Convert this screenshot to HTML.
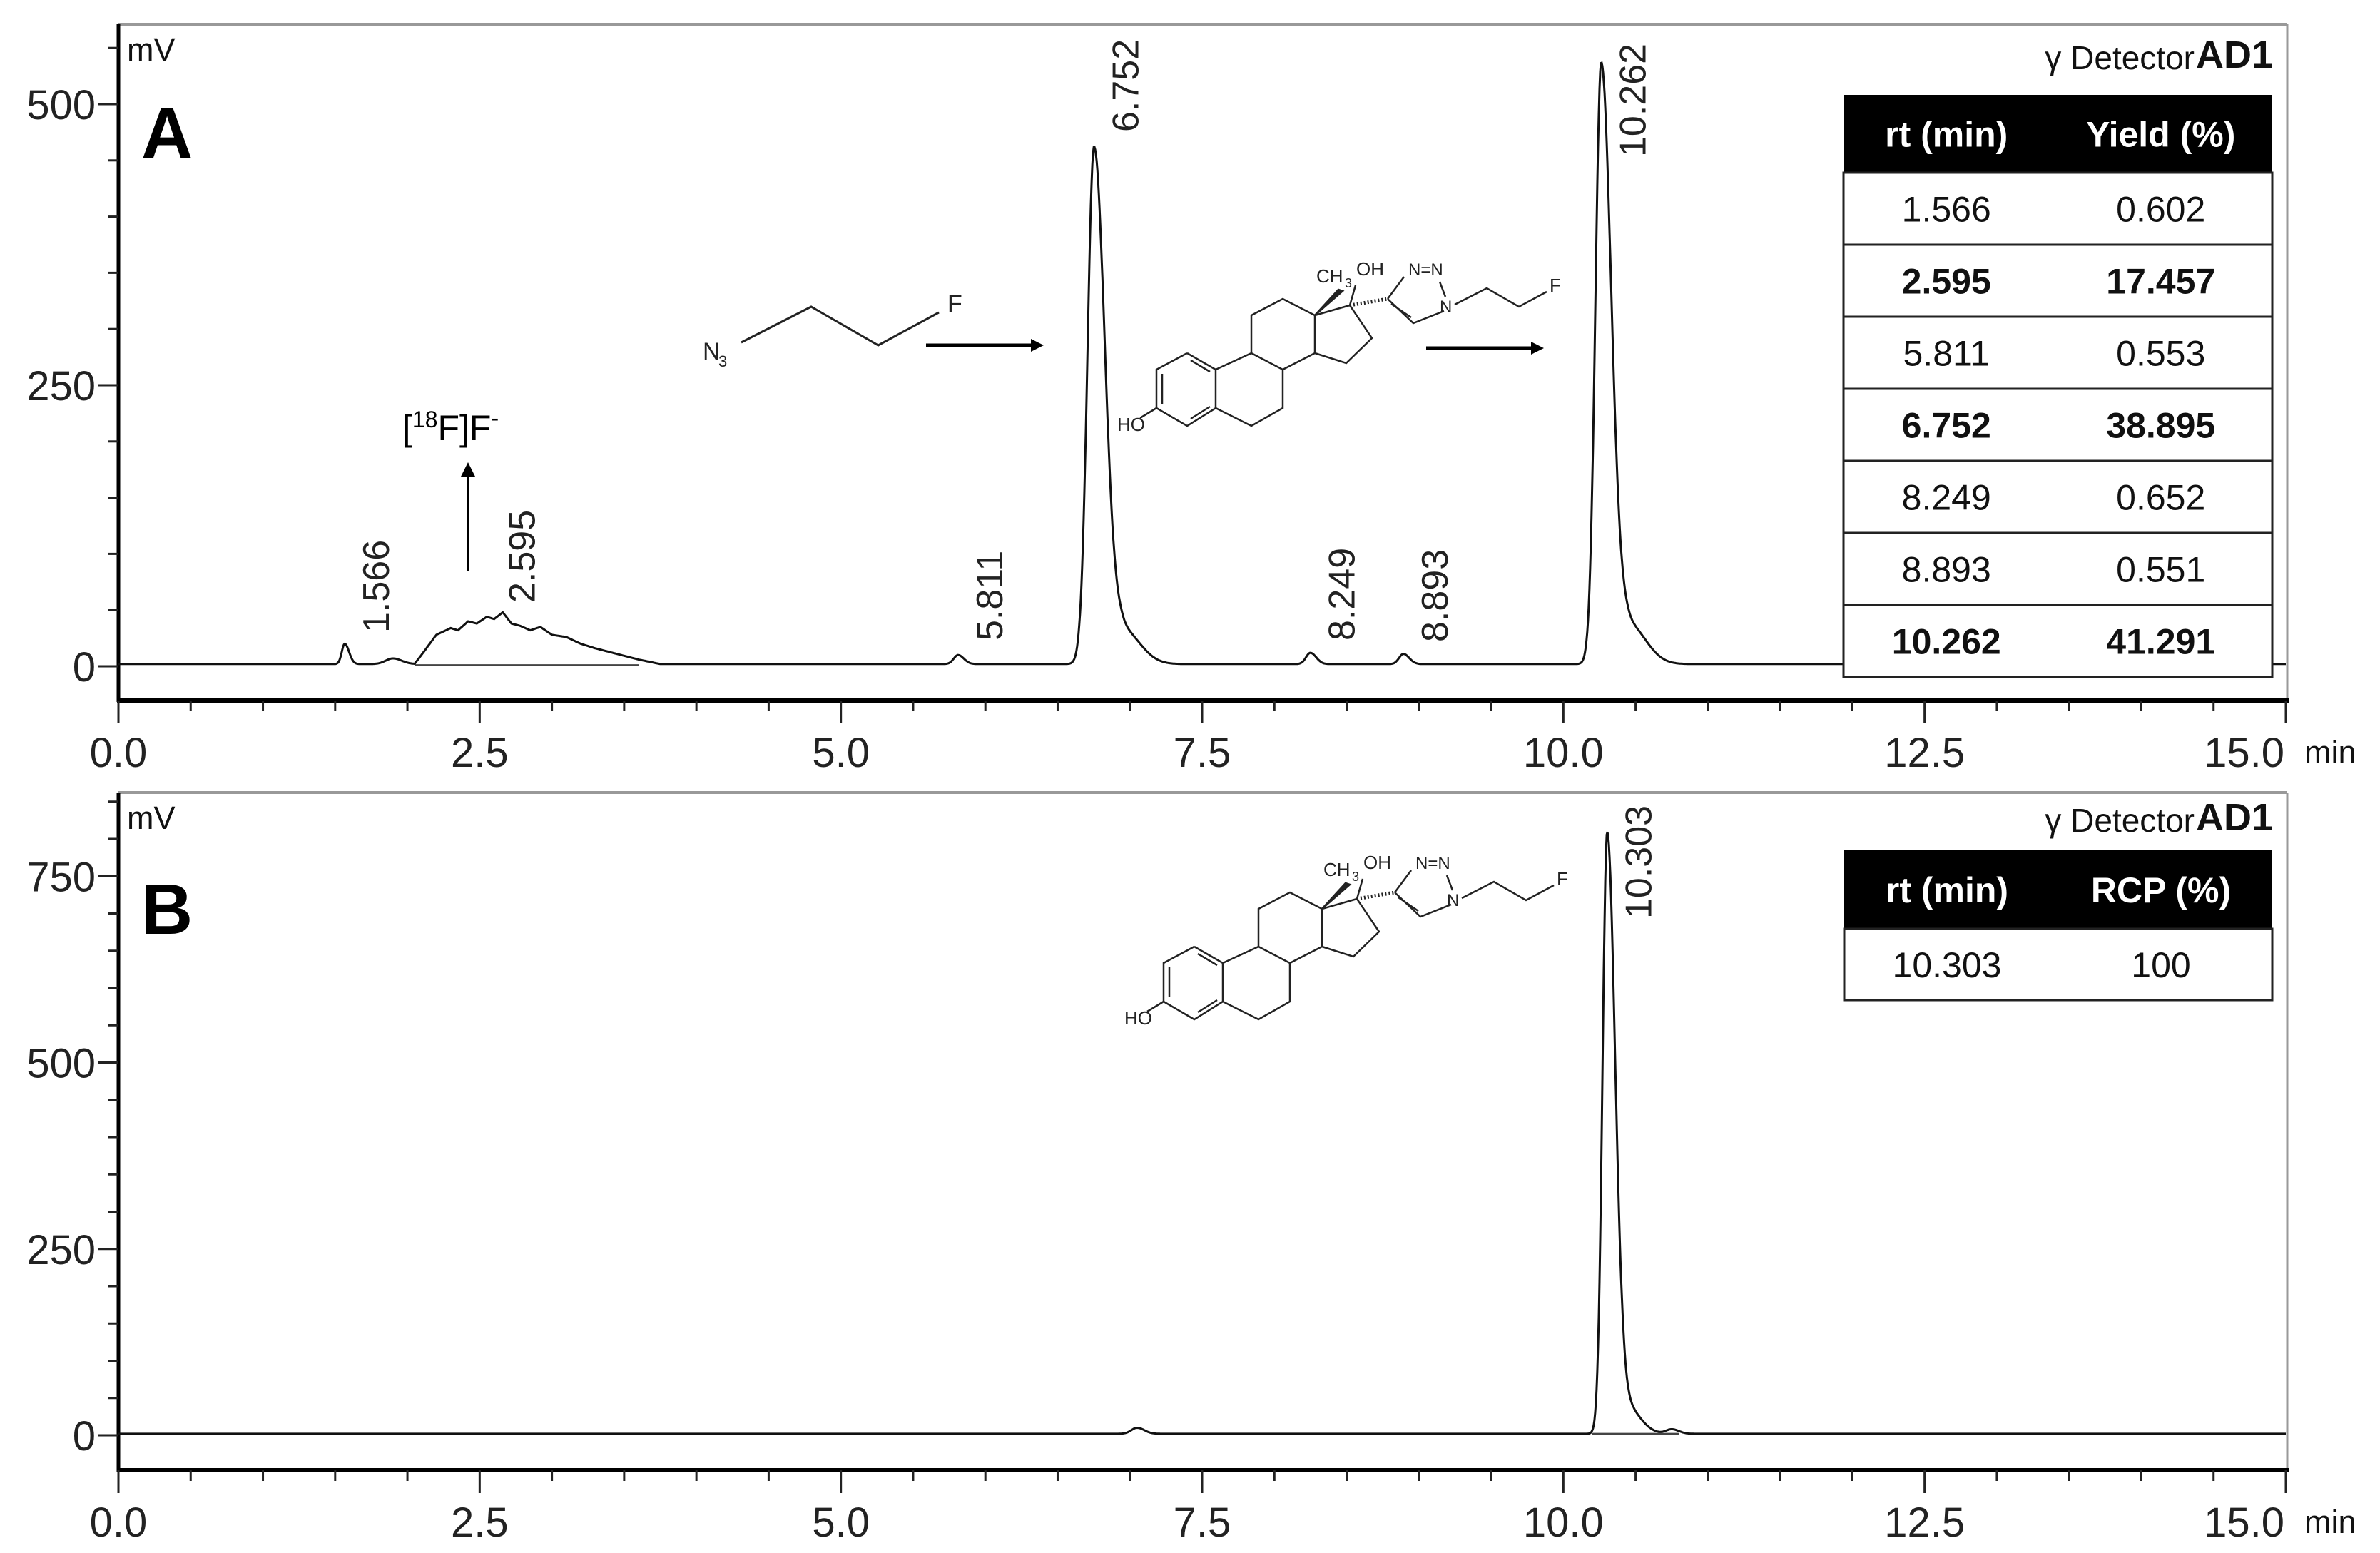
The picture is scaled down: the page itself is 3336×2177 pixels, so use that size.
<!DOCTYPE html>
<html><head><meta charset="utf-8"><style>
html,body{margin:0;padding:0;background:#fff;}
svg{display:block;}
text{font-family:"Liberation Sans",sans-serif;}
</style></head><body>
<svg id="chart" width="3336" height="2177" viewBox="0 0 3336 2177" xmlns="http://www.w3.org/2000/svg">
<g id="panelA"></g>
<g id="panelB"></g>
</svg>
<script>
// ---------- data ----------
const xTicks = [0, 2.5, 5, 7.5, 10, 12.5, 15];
const xTickLabels = ["0.0","2.5","5.0","7.5","10.0","12.5","15.0"];
const yTicksA = [0, 250, 500];
const yTickLabelsA = ["0","250","500"];
const yTicksB = [0, 250, 500, 750];
const yTickLabelsB = ["0","250","500","750"];

const peakTimesA = [1.566, 1.9, 5.811, 6.752, 6.95, 8.249, 8.893, 10.262, 10.45];
const peakHeightsA = [18, 5, 8, 460, 30, 10, 9, 535, 35];
const peakSigLA = [0.02, 0.05, 0.03, 0.045, 0.06, 0.03, 0.03, 0.04, 0.06];
const peakSigRA = [0.03, 0.06, 0.04, 0.075, 0.12, 0.04, 0.04, 0.07, 0.12];
const humpTimesA = [2.05,2.12,2.2,2.3,2.35,2.42,2.48,2.55,2.6,2.66,2.72,2.78,2.85,2.92,3.0,3.1,3.2,3.3,3.45,3.6,3.75];
const humpValuesA = [0,12,26,32,30,38,36,42,40,46,36,34,30,33,26,24,18,14,9,4,0];
const labelTimesA = ["1.566","2.595","5.811","6.752","8.249","8.893","10.262"];
const labelBottomA = [887, 845, 898, 185, 898, 900, 220];

const peakTimesB = [7.05, 10.303, 10.42, 10.75];
const peakHeightsB = [8, 805, 40, 6];
const peakSigLB = [0.04, 0.032, 0.05, 0.04];
const peakSigRB = [0.05, 0.055, 0.1, 0.05];

const tableRowsA = [["1.566","0.602",0],["2.595","17.457",1],["5.811","0.553",0],["6.752","38.895",1],["8.249","0.652",0],["8.893","0.551",0],["10.262","41.291",1]];
const tableRowsB = [["10.303","100",0]];

// ---------- helpers ----------
const NS = "http://www.w3.org/2000/svg";
const X0 = 166, X1 = 3204;
const xs = t => X0 + t * (X1 - X0) / 15;
function mk(parent, tag, attrs, txt){
  const e = document.createElementNS(NS, tag);
  for (const k in attrs) e.setAttribute(k, attrs[k]);
  if (txt !== undefined) e.textContent = txt;
  parent.appendChild(e); return e;
}
function signal(t, times, hs, sl, sr){
  let v = 0;
  for (let i=0;i<times.length;i++){
    const d = t - times[i]; const s = d < 0 ? sl[i] : sr[i];
    v += hs[i] * Math.exp(-0.5 * (d/s)*(d/s));
  }
  return v;
}
function humpAt(t){
  if (t <= humpTimesA[0] || t >= humpTimesA[humpTimesA.length-1]) return 0;
  for (let i=0;i<humpTimesA.length-1;i++){
    if (t>=humpTimesA[i] && t<=humpTimesA[i+1]){
      const f=(t-humpTimesA[i])/(humpTimesA[i+1]-humpTimesA[i]);
      return humpValuesA[i]+f*(humpValuesA[i+1]-humpValuesA[i]);
    }
  }
  return 0;
}

function drawPanel(g, cfg){
  const {top, axisY, ys, yTicks, yLabels, yMax, minorStep, letter, letterY, mvY, detY} = cfg;
  let e = mk(g,'line',{x1:X0,y1:top,x2:3206,y2:top,stroke:'#999','stroke-width':4});
   
  e = mk(g,'line',{x1:3206,y1:top,x2:3206,y2:axisY,stroke:'#999','stroke-width':3});
   
  e = mk(g,'line',{x1:X0,y1:top,x2:X0,y2:axisY+2,stroke:'#000','stroke-width':5});
   
  e = mk(g,'line',{x1:X0-2,y1:axisY,x2:3208,y2:axisY,stroke:'#000','stroke-width':6});
   
  for (let v=0; v<=yMax; v+=minorStep){
    const major = v % 250 === 0;
    e = mk(g,'line',{x1:X0-(major?28:14),y1:ys(v),x2:X0,y2:ys(v),stroke:'#222','stroke-width':3});
     
  }
  yTicks.forEach((v,i)=>{
    e = mk(g,'text',{x:X0-32,y:ys(v)+21,'text-anchor':'end','font-size':58,fill:'#222'},yLabels[i]);
     
  });
  for (let k=0;k<=30;k++){
    const t=k*0.5, major = k%5===0;
    e = mk(g,'line',{x1:xs(t),y1:axisY,x2:xs(t),y2:axisY+(major?32:15),stroke:'#222','stroke-width':3});
     
  }
  xTicks.forEach((t,i)=>{
    const last = i === xTicks.length-1;
    e = mk(g,'text',{x:last?3202:xs(t),y:axisY+93,'text-anchor':last?'end':'middle','font-size':58,fill:'#222'},xTickLabels[i]);
     
  });
  e = mk(g,'text',{x:3230,y:axisY+88,'font-size':45,fill:'#111'},'min');
   
  e = mk(g,'text',{x:178,y:mvY,'font-size':45,fill:'#111'},'mV');
   
  e = mk(g,'text',{x:198,y:letterY,'font-size':100,'font-weight':'bold',fill:'#000'},letter);
   
  e = mk(g,'text',{x:3076,y:detY,'text-anchor':'end','font-size':46,fill:'#111'},'γ Detector');
   
  e = mk(g,'text',{x:3078,y:detY-2,'font-size':54,'font-weight':'bold',fill:'#111'},'AD1');
   
}

function drawTable(g, left, right, top, headH, rowH, headers, rows){
  const w = right-left, c1 = left + w*0.24, c2 = left + w*0.74;
  let e = mk(g,'rect',{x:left,y:top,width:w,height:headH,fill:'#000'});
   
  headers.forEach((h,i)=>{
    e = mk(g,'text',{x:i?c2:c1,y:top+headH/2+18,'text-anchor':'middle','font-size':50,'font-weight':'bold',fill:'#fff'},h);
     
  });
  rows.forEach((r,i)=>{
    const y = top+headH+i*rowH;
    e = mk(g,'rect',{x:left,y:y,width:w,height:rowH,fill:'#fff',stroke:'#222','stroke-width':3});
     
    [r[0],r[1]].forEach((v,j)=>{
      e = mk(g,'text',{x:j?c2:c1,y:y+rowH/2+18,'text-anchor':'middle','font-size':50,'font-weight':r[2]?'bold':'normal',fill:'#111'},v);
       
    });
  });
}

function drawSteroid(g, dx, dy){
  const s = mk(g,'g',{transform:`translate(${dx},${dy})`,stroke:'#222','stroke-width':2.5,fill:'none'});
   
  const P = [[1664,495],[1704,518],[1704,572],[1664,597],[1621,572],[1621,518],[1664,495]];
  mk(s,'polyline',{points:P.map(p=>p.join(',')).join(' ')});
  mk(s,'line',{x1:1669,y1:505,x2:1696,y2:521});
  mk(s,'line',{x1:1629,y1:524,x2:1629,y2:566});
  mk(s,'line',{x1:1669,y1:587,x2:1696,y2:570});
  mk(s,'polyline',{points:'1704,518 1754,495 1798,518 1798,572 1754,597 1704,572'});
  mk(s,'polyline',{points:'1754,495 1754,442 1798,419 1843,442 1843,495 1798,518'});
  mk(s,'polyline',{points:'1843,442 1892,428 1923,474 1887,509 1843,495'});
  mk(s,'line',{x1:1621,y1:572,x2:1598,y2:586});
  mk(s,'polygon',{points:'1843,442 1876,406 1882,408',fill:'#222'});
  mk(s,'line',{x1:1892,y1:428,x2:1900,y2:400});
  mk(s,'line',{x1:1892,y1:428,x2:1945,y2:419,'stroke-dasharray':'2 3','stroke-width':5});
  mk(s,'polyline',{points:'1945,419 1981,453 2024,436'});
  mk(s,'line',{x1:1950,y1:426,x2:1978,y2:445});
  mk(s,'line',{x1:1945,y1:419,x2:1968,y2:388});
  mk(s,'line',{x1:2018,y1:395,x2:2026,y2:416});
  mk(s,'polyline',{points:'2039,427 2084,404 2129,430 2168,409'});
  const tx = [['CH','1845','396',26],['3','1885','403',18],['OH','1901','386',26],['N=N','1974','386',24],['N','2018','438',24],['F','2172','409',26],['HO','1566','604',26]];
  tx.forEach(a=>{
    const e = mk(s,'text',{x:a[1],y:a[2],'font-size':a[3],fill:'#222',stroke:'none'},a[0]);
     
  });
}

// ---------- Panel A ----------
const gA = document.getElementById('panelA');
const ysA = v => 934 - v*1.576;
drawPanel(gA,{top:34,axisY:982,ys:ysA,yTicks:yTicksA,yLabels:yTickLabelsA,yMax:550,minorStep:50,letter:'A',letterY:221,mvY:85,detY:97});
let el = mk(gA,'line',{x1:xs(2.05),y1:ysA(1),x2:xs(3.6),y2:ysA(1),stroke:'#444','stroke-width':2.5});
 
let ptsA=[];
for (let t=0;t<=15.0001;t+=0.005){
  const v = 2 + signal(t,peakTimesA,peakHeightsA,peakSigLA,peakSigRA) + humpAt(t);
  ptsA.push(xs(t).toFixed(1)+','+ysA(v).toFixed(1));
}
el = mk(gA,'polyline',{points:ptsA.join(' '),fill:'none',stroke:'#111','stroke-width':3});
 
labelTimesA.forEach((lab,i)=>{
  const x = xs(parseFloat(lab))+ (i===1?58:62);
  const y = labelBottomA[i];
  el = mk(gA,'text',{transform:`translate(${x},${y}) rotate(-90)`,'font-size':52,fill:'#222'},lab);
   
});
drawTable(gA,2584,3185,133,109,101,['rt (min)','Yield (%)'],tableRowsA);
el = mk(gA,'text',{x:564,y:617,'font-size':50,fill:'#000'}); el.innerHTML='[<tspan font-size="32" dy="-18">18</tspan><tspan dy="18">F]F</tspan><tspan font-size="32" dy="-20">-</tspan>';
 
el = mk(gA,'line',{x1:656,y1:800,x2:656,y2:665,stroke:'#000','stroke-width':4});
 
mk(gA,'polygon',{points:'646,668 666,668 656,648',fill:'#000'});
const az = mk(gA,'g',{stroke:'#222','stroke-width':3,fill:'none'});
 
mk(az,'polyline',{points:'1039,480 1137,430 1231,484 1316,438'});
el = mk(az,'text',{x:985,y:504,'font-size':34,fill:'#222',stroke:'none'},'N');
 
mk(az,'text',{x:1007,y:514,'font-size':22,fill:'#222',stroke:'none'},'3');
el = mk(az,'text',{x:1328,y:437,'font-size':34,fill:'#222',stroke:'none'},'F');
 
[[1298,1463,484],[1999,2164,488]].forEach(a=>{
  el = mk(gA,'line',{x1:a[0],y1:a[2],x2:a[1]-14,y2:a[2],stroke:'#000','stroke-width':5});
   
  mk(gA,'polygon',{points:`${a[1]-18},${a[2]-9} ${a[1]},${a[2]} ${a[1]-18},${a[2]+9}`,fill:'#000'});
});
drawSteroid(gA,0,0);

// ---------- Panel B ----------
const gB = document.getElementById('panelB');
const ysB = v => 2012 - v*1.045;
drawPanel(gB,{top:1111,axisY:2061,ys:ysB,yTicks:yTicksB,yLabels:yTickLabelsB,yMax:850,minorStep:50,letter:'B',letterY:1309,mvY:1162,detY:1166});
el = mk(gB,'line',{x1:xs(10.2),y1:ysB(2),x2:xs(10.8),y2:ysB(2),stroke:'#444','stroke-width':2.5});
 
let ptsB=[];
for (let t=0;t<=15.0001;t+=0.005){
  const v = 2 + signal(t,peakTimesB,peakHeightsB,peakSigLB,peakSigRB);
  ptsB.push(xs(t).toFixed(1)+','+ysB(v).toFixed(1));
}
el = mk(gB,'polyline',{points:ptsB.join(' '),fill:'none',stroke:'#111','stroke-width':3});
 
el = mk(gB,'text',{transform:`translate(${xs(10.303)+62},1288) rotate(-90)`,'font-size':52,fill:'#222'},'10.303');
 
drawTable(gB,2585,3185,1192,110,100,['rt (min)','RCP (%)'],tableRowsB);
drawSteroid(gB,10,832);
</script>
</body></html>
